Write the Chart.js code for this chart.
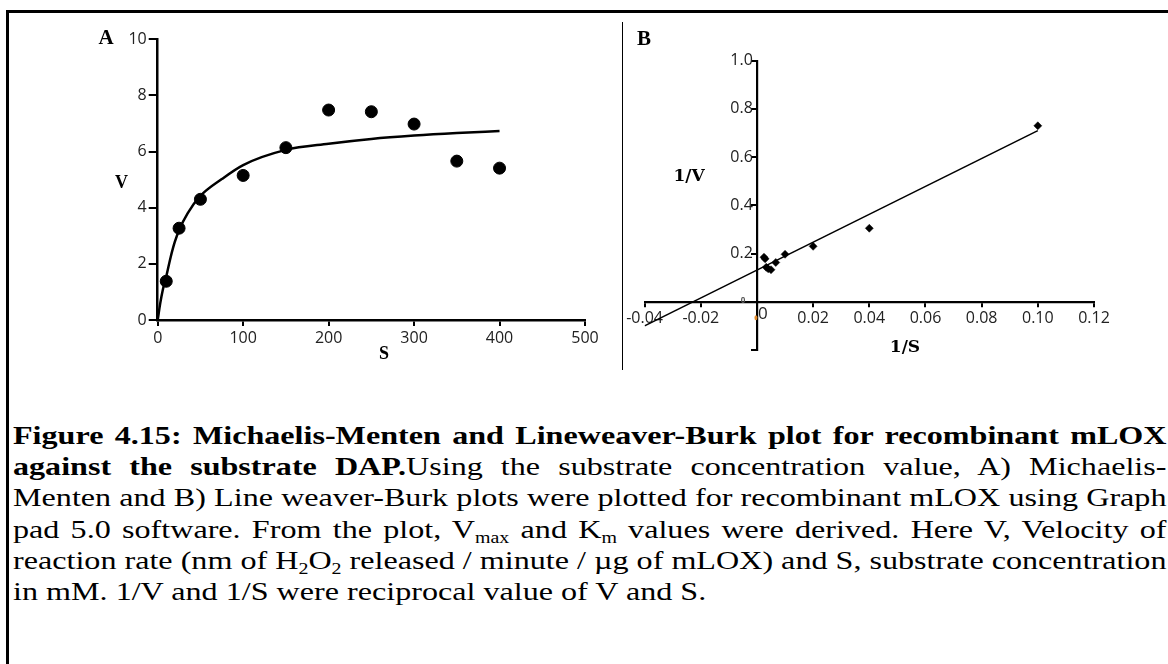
<!DOCTYPE html>
<html><head><meta charset="utf-8">
<script src="https://cdn.jsdelivr.net/npm/chart.js@4.4.1/dist/chart.umd.min.js"></script>
<style>
html,body{margin:0;padding:0;background:#fff;}
body{width:1168px;height:664px;overflow:hidden;position:relative;}
#frame{position:absolute;left:6px;top:10px;width:1300px;height:800px;border-top:3.5px solid #000;border-left:3.5px solid #000;box-sizing:border-box;}
#sep{position:absolute;left:621.5px;top:22px;width:1.5px;height:348px;background:#000;}
canvas{position:absolute;}
.lbl{position:absolute;transform:translate(-50%,-50%);white-space:nowrap;font-family:"Liberation Serif","Times New Roman",serif;font-weight:bold;color:#000;line-height:1;}
.lb2{font-family:"DejaVu Serif",serif;font-size:17px;}
#cap{position:absolute;left:12.5px;top:420px;width:1153.5px;font-family:"Liberation Serif","Times New Roman",serif;font-size:26px;line-height:31.2px;color:#000;}
#cap div{white-space:nowrap;text-align:justify;text-align-last:justify;transform-origin:0 0;}
#cap div.last{text-align-last:left;}
sub{font-size:0.62em;line-height:0;vertical-align:-0.28em;}
</style>
</head><body>
<div id="frame"></div>
<div id="sep"></div>
<canvas id="cA" width="615" height="380" style="left:0;top:0;"></canvas>
<canvas id="cB" width="515" height="360" style="left:615px;top:20px;"></canvas>

<div class="lbl" style="left:106px;top:37px;font-size:21px;">A</div>
<div class="lbl" style="left:121.5px;top:182px;font-size:18px;">V</div>
<div class="lbl" style="left:384px;top:353px;font-size:18px;">S</div>
<div class="lbl" style="left:644px;top:37.5px;font-size:21px;">B</div>
<div class="lbl lb2" style="left:689px;top:175px;">1/V</div>
<div class="lbl lb2" style="left:905px;top:345.5px;">1/S</div>

<div id="cap">
<div><b>Figure 4.15: Michaelis-Menten and Lineweaver-Burk plot for recombinant mLOX</b></div>
<div class="wide"><b>against the substrate DAP.</b>Using the substrate concentration value, A) Michaelis-</div>
<div>Menten and B) Line weaver-Burk plots were plotted for recombinant mLOX using Graph</div>
<div>pad 5.0 software. From the plot, V<sub>max</sub> and K<sub>m</sub> values were derived. Here V, Velocity of</div>
<div>reaction rate (nm of H<sub>2</sub>O<sub>2</sub> released / minute / µg of mLOX) and S, substrate concentration</div>
<div class="last">in mM. 1/V and 1/S were reciprocal value of V and S.</div>
</div>

<script>
// ---- Panel A: Michaelis-Menten ----
const substrateS = [10, 25, 50, 100, 150, 200, 250, 300, 350, 400];
const velocityV  = [1.38, 3.27, 4.30, 5.15, 6.14, 7.48, 7.42, 6.98, 5.66, 5.41];
// fitted curve
const curveS = [0, 3, 6, 10, 15, 20, 25, 35, 50, 75, 100, 150, 200, 250, 300, 350, 400];
const curveV = [0, 0.60, 1.08, 1.55, 2.22, 2.78, 3.20, 3.80, 4.42, 5.02, 5.52, 6.06, 6.28, 6.45, 6.57, 6.66, 6.73];
const xTicksA = [0, 100, 200, 300, 400, 500];
const yTicksA = [0, 2, 4, 6, 8, 10];

// ---- Panel B: Lineweaver-Burk ----
const invS = [0.10, 0.04, 0.02, 0.010, 0.0067, 0.0050, 0.0040, 0.0033, 0.0029, 0.0025];
const invV = [0.73, 0.305, 0.23, 0.197, 0.163, 0.133, 0.137, 0.143, 0.178, 0.185];
const lineX = [-0.04, 0.10];
const lineY = [-0.10, 0.71];
const xTicksB = [-0.04, -0.02, 0, 0.02, 0.04, 0.06, 0.08, 0.10, 0.12];
const yTicksB = [-0.2, 0, 0.2, 0.4, 0.6, 0.8, 1.0];

const tickFont = {family: '"Open Sans", sans-serif', size: 16};
const tickColor = '#222';

new Chart(document.getElementById('cA'), {
  type: 'scatter',
  data: {datasets: [
    {type: 'line', data: curveS.map((s, i) => ({x: s, y: curveV[i]})), borderColor: '#000', borderWidth: 2.5,
     pointRadius: 0, cubicInterpolationMode: 'monotone', fill: false, order: 2},
    {data: substrateS.map((s, i) => ({x: s, y: velocityV[i]})), backgroundColor: '#000', borderColor: '#000',
     pointRadius: 6, order: 1}
  ]},
  options: {
    responsive: false, animation: false, events: [],
    layout: {padding: {left: 0, top: 39.3, right: 30, bottom: 0}},
    plugins: {legend: {display: false}, tooltip: {enabled: false}},
    scales: {
      x: {type: 'linear', min: xTicksA[0], max: xTicksA[xTicksA.length - 1],
          afterBuildTicks: s => { s.ticks = xTicksA.map(v => ({value: v})); },
          ticks: {font: tickFont, color: tickColor, padding: 3},
          grid: {display: true, drawOnChartArea: false, drawTicks: true, tickLength: 6, color: '#000', lineWidth: 2},
          border: {display: true, color: '#000', width: 2.5},
          afterFit: s => { s.height = 60; }},
      y: {type: 'linear', min: yTicksA[0], max: yTicksA[yTicksA.length - 1],
          afterBuildTicks: s => { s.ticks = yTicksA.map(v => ({value: v})); },
          ticks: {font: tickFont, color: tickColor, padding: 2},
          grid: {display: true, drawOnChartArea: false, drawTicks: true, tickLength: 9, color: '#000', lineWidth: 2},
          border: {display: true, color: '#000', width: 2.5},
          afterFit: s => { s.width = 157.7; }}
    }
  }
});

const zeroLabels = {
  id: 'zeroLabels',
  afterDraw(chart) {
    const xs = chart.scales.x, ys = chart.scales.y;
    const x0 = xs.getPixelForValue(0), y0 = ys.getPixelForValue(0);
    const ctx = chart.ctx;
    ctx.save();
    ctx.textAlign = 'center'; ctx.textBaseline = 'middle';
    ctx.fillStyle = '#e08a2a';
    ctx.beginPath(); ctx.ellipse(x0 - 1, y0 + 16, 1.5, 2.5, 0, 0, Math.PI * 2); ctx.fill();
    ctx.fillStyle = '#222'; ctx.font = '17px "Open Sans", sans-serif';
    ctx.fillText('0', x0 + 6, y0 + 12.5);
    ctx.fillStyle = '#555'; ctx.font = 'bold 8px "Open Sans", sans-serif';
    ctx.fillText('0', x0 - 14, y0 - 1);
    ctx.restore();
  }
};

new Chart(document.getElementById('cB'), {
  type: 'scatter',
  data: {datasets: [
    {type: 'line', data: lineX.map((x, i) => ({x: x, y: lineY[i]})), borderColor: '#000', borderWidth: 1.6,
     pointRadius: 0, fill: false, order: 2},
    {data: invS.map((x, i) => ({x: x, y: invV[i]})), pointStyle: 'rectRot', pointRadius: 4,
     backgroundColor: '#000', borderColor: '#000', borderWidth: 0.5, order: 1}
  ]},
  options: {
    responsive: false, animation: false, events: [],
    layout: {padding: {left: 29.6, top: 40.7, right: 36, bottom: 30}},
    plugins: {legend: {display: false}, tooltip: {enabled: false}},
    scales: {
      x: {type: 'linear', position: {y: 0}, min: xTicksB[0], max: xTicksB[xTicksB.length - 1],
          afterBuildTicks: s => { s.ticks = xTicksB.map(v => ({value: v})); },
          ticks: {font: tickFont, color: tickColor, padding: 3,
                  callback: v => Math.abs(v) < 1e-9 ? '' : v.toFixed(2)},
          grid: {display: true, drawOnChartArea: false, drawTicks: true, tickLength: 4, color: '#000', lineWidth: 2},
          border: {display: true, color: '#000', width: 2.2}},
      y: {type: 'linear', position: {x: 0}, min: yTicksB[0], max: yTicksB[yTicksB.length - 1],
          afterBuildTicks: s => { s.ticks = yTicksB.map(v => ({value: v})); },
          ticks: {font: tickFont, color: tickColor, padding: 1,
                  callback: v => v > 0.05 ? v.toFixed(1) + ' ' : ''},
          grid: {display: true, drawOnChartArea: false, drawTicks: true, tickLength: 5, color: '#000', lineWidth: 2},
          border: {display: true, color: '#000', width: 2.2}}
    }
  },
  plugins: [zeroLabels]
});

// caption: stretch glyphs horizontally so the widest full line fills the box, like the source
function fitCaption() {
  const W = 1153.5;
  const lines = Array.from(document.querySelectorAll('#cap div'));
  let maxW = 0;
  lines.forEach(d => { d.style.transform = 'none'; d.style.width = 'auto'; d.style.display = 'inline-block'; });
  lines.forEach(d => {
    if (!d.classList.contains('last') && !d.classList.contains('wide')) {
      maxW = Math.max(maxW, d.getBoundingClientRect().width);
    }
  });
  const s = W / maxW;
  lines.forEach(d => {
    d.style.display = 'block';
    d.style.width = (W / s) + 'px';
    d.style.transform = 'scaleX(' + s + ')';
  });
}
fitCaption();
if (document.fonts && document.fonts.ready) document.fonts.ready.then(fitCaption);
</script>
</body></html>
